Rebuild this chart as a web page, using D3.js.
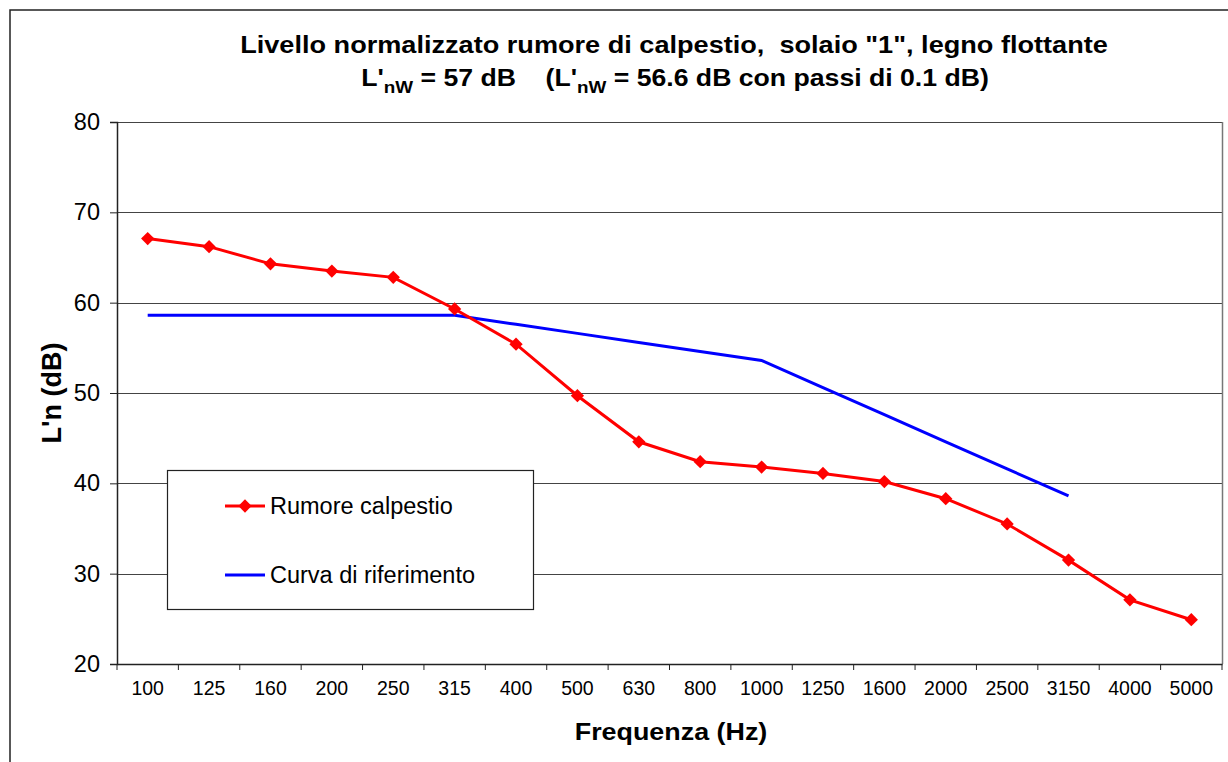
<!DOCTYPE html>
<html>
<head>
<meta charset="utf-8">
<script src="https://cdn.jsdelivr.net/npm/d3@7"></script>
<style>
  html, body { margin: 0; padding: 0; background: #fff; }
  svg { display: block; font-family: "Liberation Sans", Arial, sans-serif; }
  .pre { white-space: pre; }
</style>
</head>
<body>
<svg id="chart" width="1228" height="762"></svg>
<script>
const frequencies = ["100","125","160","200","250","315","400","500","630","800","1000","1250","1600","2000","2500","3150","4000","5000"];
const rumoreCalpestio = [67.1,66.2,64.3,63.5,62.8,59.3,55.4,49.7,44.6,42.4,41.8,41.1,40.2,38.3,35.5,31.5,27.1,24.9];
const refFrequencies = ["100","125","160","200","250","315","400","500","630","800","1000","1250","1600","2000","2500","3150"];
const curvaRiferimento = [58.6,58.6,58.6,58.6,58.6,58.6,57.6,56.6,55.6,54.6,53.6,50.6,47.6,44.6,41.6,38.6];
const yTicks = [20,30,40,50,60,70,80];

const svg = d3.select("#chart");
const pLeft = 117, pRight = 1222, pTop = 122, pBottom = 664;

// outer chart border
svg.append("rect").attr("x",10).attr("y",10).attr("width",1250).attr("height",790)
  .attr("fill","#fff").attr("stroke","#222").attr("stroke-width",1.5);

const x = d3.scaleBand().domain(frequencies).range([pLeft,pRight]).padding(0);
const y = d3.scaleLinear().domain([20,80]).range([pBottom,pTop]);
const cx = f => x(f) + x.bandwidth()/2;

// gridlines
svg.append("g").selectAll("line").data(yTicks.filter(t => t > 20)).join("line")
  .attr("x1",pLeft).attr("x2",pRight)
  .attr("y1",d => Math.round(y(d))+0.5).attr("y2",d => Math.round(y(d))+0.5)
  .attr("stroke","#444").attr("stroke-width",1);
// right frame
svg.append("line").attr("x1",pRight+0.5).attr("x2",pRight+0.5).attr("y1",pTop).attr("y2",pBottom)
  .attr("stroke","#777").attr("stroke-width",1.5);

// y axis
const yAxis = d3.axisLeft(y).tickValues(yTicks).tickSize(7).tickPadding(10).tickFormat(d3.format("d"));
const gy = svg.append("g").attr("transform",`translate(${pLeft},0)`).call(yAxis);
gy.select(".domain").attr("stroke","#222").attr("stroke-width",1.5);
gy.selectAll(".tick line").attr("stroke","#222");
gy.selectAll(".tick text").attr("font-size",23.5).attr("fill","#000")
  .attr("font-family","Liberation Sans, Arial, sans-serif");

// x axis
const xAxis = d3.axisBottom(x).tickSize(0).tickPadding(17);
const gx = svg.append("g").attr("transform",`translate(0,${pBottom})`).call(xAxis);
gx.select(".domain").attr("stroke","#222").attr("stroke-width",1.5);
gx.selectAll(".tick text").attr("font-size",19.5).attr("fill","#000")
  .attr("font-family","Liberation Sans, Arial, sans-serif");
// band boundary ticks
svg.append("g").selectAll("line").data(frequencies.concat(["_end"])).join("line")
  .attr("x1",(d,i) => pLeft + i*x.bandwidth()).attr("x2",(d,i) => pLeft + i*x.bandwidth())
  .attr("y1",pBottom).attr("y2",pBottom+6).attr("stroke","#222").attr("stroke-width",1);

// reference curve
const line = d3.line().x(d => cx(d.f)).y(d => y(d.v));
svg.append("path")
  .datum(refFrequencies.map((f,i) => ({f, v: curvaRiferimento[i]})))
  .attr("d", line).attr("fill","none").attr("stroke","#0000FF").attr("stroke-width",3);

// measured curve
const redData = frequencies.map((f,i) => ({f, v: rumoreCalpestio[i]}));
svg.append("path").datum(redData)
  .attr("d", line).attr("fill","none").attr("stroke","#FF0000").attr("stroke-width",3);
const diamond = d3.symbol(d3.symbolSquare, 88);
svg.append("g").selectAll("path").data(redData).join("path")
  .attr("d", diamond)
  .attr("transform", d => `translate(${cx(d.f)},${y(d.v)}) rotate(45)`)
  .attr("fill","#FF0000");

// title (bold text slightly widened, as in the reference)
const title = svg.append("g").attr("font-weight","bold").attr("fill","#000").attr("text-anchor","middle");
title.append("g").attr("transform","translate(674,53) scale(1.13,1)")
  .append("text").attr("class","pre").attr("x",0).attr("y",0).attr("font-size",24)
  .text("Livello normalizzato rumore di calpestio,  solaio \"1\", legno flottante");
const t2 = title.append("g").attr("transform","translate(675,86) scale(1.11,1)")
  .append("text").attr("class","pre").attr("x",0).attr("y",0).attr("font-size",24);
t2.append("tspan").text("L'");
t2.append("tspan").attr("font-size",17).attr("dy",7).text("nW");
t2.append("tspan").attr("dy",-7).text(" = 57 dB    (L'");
t2.append("tspan").attr("font-size",17).attr("dy",7).text("nW");
t2.append("tspan").attr("dy",-7).text(" = 56.6 dB con passi di 0.1 dB)");

// axis titles
svg.append("g").attr("transform","translate(671,740) scale(1.12,1)")
  .append("text").attr("x",0).attr("y",0).attr("text-anchor","middle")
  .attr("font-size",24).attr("font-weight","bold").text("Frequenza (Hz)");
svg.append("text").attr("transform","translate(61,393) rotate(-90)").attr("text-anchor","middle")
  .attr("font-size",27).attr("font-weight","bold").text("L'n (dB)");

// legend
const lg = svg.append("g");
lg.append("rect").attr("x",167.5).attr("y",470.5).attr("width",366).attr("height",139)
  .attr("fill","#fff").attr("stroke","#222").attr("stroke-width",1.2);
const legendItems = [
  {label:"Rumore calpestio", color:"#FF0000", marker:true, y:506},
  {label:"Curva di riferimento", color:"#0000FF", marker:false, y:575}
];
legendItems.forEach(it => {
  lg.append("line").attr("x1",225).attr("x2",265).attr("y1",it.y).attr("y2",it.y)
    .attr("stroke",it.color).attr("stroke-width",3);
  if (it.marker) lg.append("path").attr("d",diamond)
    .attr("transform",`translate(245,${it.y}) rotate(45)`).attr("fill",it.color);
  lg.append("text").attr("x",270).attr("y",it.y+8).attr("font-size",23.5).attr("fill","#000").text(it.label);
});
</script>
</body>
</html>
